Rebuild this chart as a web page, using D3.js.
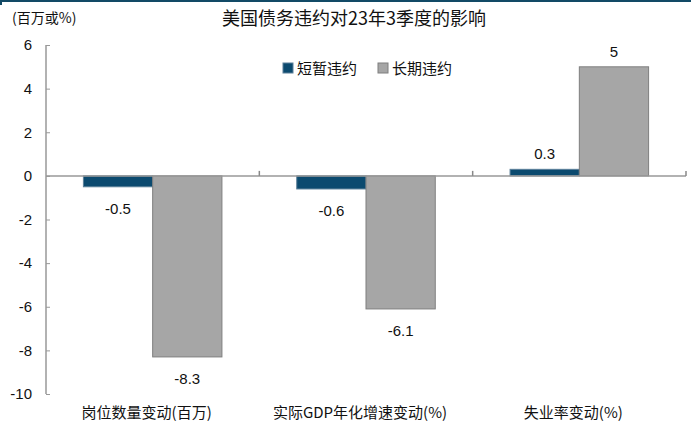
<!DOCTYPE html>
<html><head><meta charset="utf-8">
<script src="https://cdn.jsdelivr.net/npm/d3@7"></script>
<style>
html,body{margin:0;padding:0;background:#fff;}
svg{display:block;}
</style></head>
<body>
<script>
// 数据
const categories = ["岗位数量变动(百万)", "实际GDP年化增速变动(%)", "失业率变动(%)"];
const seriesNames = ["短暂违约", "长期违约"];
const shortDefault = [-0.5, -0.6, 0.3];
const longDefault = [-8.3, -6.1, 5];
const yTicks = [6, 4, 2, 0, -2, -4, -6, -8, -10];
const colors = ["#0b4a6f", "#a6a6a6"];
const strokes = ["#5a7f99", "#7f7f7f"];

const W = 691, H = 426;
const svg = d3.select("body").append("svg").attr("width", W).attr("height", H);
const cjk = "'Noto Sans CJK SC', 'Noto Sans', sans-serif";
const num = "'Liberation Sans', Arial, sans-serif";
const fmt = v => String(v); // 使用普通连字符作负号

// 顶部装饰线
svg.append("rect").attr("x", 0).attr("y", 0).attr("width", W).attr("height", 2).attr("fill", "#124a66");
svg.append("rect").attr("x", 0).attr("y", 0).attr("width", 2).attr("height", 5).attr("fill", "#124a66");

const plot = {left: 46, right: 686, top: 45, bottom: 394};
const y = d3.scaleLinear().domain([-10, 6]).range([plot.bottom, plot.top]);
const x0 = d3.scaleBand().domain(categories).range([plot.left, plot.right]).paddingInner(0).paddingOuter(0);
const x1 = d3.scaleBand().domain(seriesNames).range([0, x0.bandwidth()]).paddingOuter(0.54).paddingInner(0);

// 标题与单位
svg.append("text").attr("x", 354).attr("y", 25).attr("text-anchor", "middle")
  .attr("font-family", cjk).attr("font-size", 18).attr("fill", "#111")
  .text("美国债务违约对23年3季度的影响");
svg.append("text").attr("x", 12).attr("y", 23)
  .attr("font-family", cjk).attr("font-size", 14).attr("fill", "#111")
  .text("(百万或%)");

// Y 轴
const yAxis = d3.axisLeft(y).tickValues(yTicks).tickSize(-4).tickPadding(14).tickFormat(fmt);
const gy = svg.append("g").attr("transform", `translate(${plot.left},0)`).call(yAxis);
gy.select(".domain").attr("stroke", "#999").attr("stroke-width", 1.5).attr("d", `M-0,${plot.top}V${plot.bottom}`);
gy.selectAll(".tick line").attr("stroke", "#999");
gy.selectAll(".tick text").attr("font-family", num).attr("font-size", 15).attr("fill", "#111");

// 柱
const data = categories.map((c, i) => ({cat: c, vals: [shortDefault[i], longDefault[i]]}));
const groups = svg.append("g").selectAll("g").data(data).join("g")
  .attr("transform", d => `translate(${x0(d.cat)},0)`);
groups.selectAll("rect").data(d => d.vals.map((v, j) => ({v, j}))).join("rect")
  .attr("x", d => x1(seriesNames[d.j]))
  .attr("width", x1.bandwidth())
  .attr("y", d => y(Math.max(0, d.v)))
  .attr("height", d => Math.abs(y(d.v) - y(0)))
  .attr("fill", d => colors[d.j])
  .attr("stroke", d => strokes[d.j]).attr("stroke-width", 1);

// 数值标签
groups.selectAll("text.val").data(d => d.vals.map((v, j) => ({v, j}))).join("text")
  .attr("class", "val")
  .attr("x", d => x1(seriesNames[d.j]) + x1.bandwidth() / 2)
  .attr("y", d => d.v < 0 ? y(d.v) + 27 : y(d.v) - 10)
  .attr("text-anchor", "middle")
  .attr("font-family", num).attr("font-size", 15).attr("fill", "#111")
  .text(d => fmt(d.v));

// X 轴(零线)与分类刻度
svg.append("line").attr("x1", plot.left).attr("x2", plot.right)
  .attr("y1", y(0)).attr("y2", y(0)).attr("stroke", "#999").attr("stroke-width", 1.5);
categories.forEach(c => {
  const xb = x0(c) + x0.bandwidth();
  svg.append("line").attr("x1", xb).attr("x2", xb).attr("y1", y(0)).attr("y2", y(0) - 5)
    .attr("stroke", "#888").attr("stroke-width", 1.5);
});

// 分类标签
svg.append("g").selectAll("text").data(categories).join("text")
  .attr("x", d => x0(d) + x0.bandwidth() / 2 - 6)
  .attr("y", 418)
  .attr("text-anchor", "middle")
  .attr("font-family", cjk).attr("font-size", 15).attr("fill", "#111")
  .text(d => d);

// 图例
const lg = svg.append("g").attr("transform", "translate(283,62)");
seriesNames.forEach((n, i) => {
  const gx = i * 95;
  lg.append("rect").attr("x", gx).attr("y", 1).attr("width", 10).attr("height", 10)
    .attr("fill", colors[i]).attr("stroke", strokes[i]);
  lg.append("text").attr("x", gx + 14).attr("y", 12)
    .attr("font-family", cjk).attr("font-size", 15).attr("fill", "#111").text(n);
});
</script>
</body></html>
